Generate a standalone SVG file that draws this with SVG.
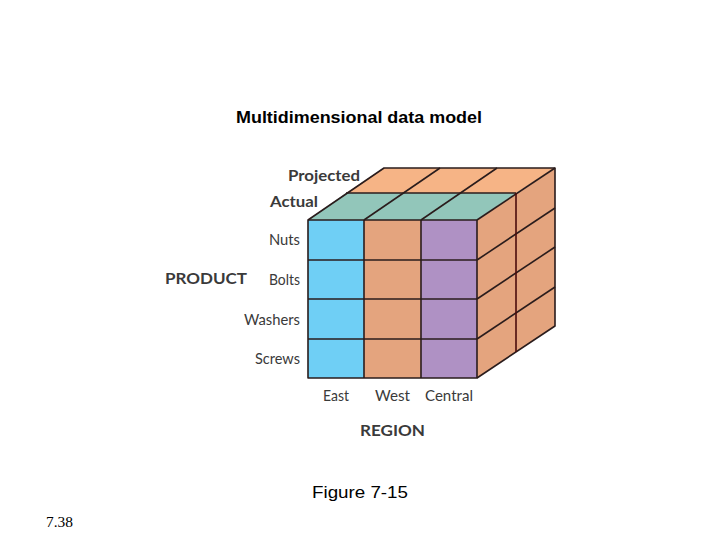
<svg xmlns="http://www.w3.org/2000/svg" width="720" height="540" viewBox="0 0 720 540">
<style>
.t{font-family:"Liberation Sans",Arial,sans-serif;fill:#000}
.l{font-family:"Lato","Open Sans",sans-serif;fill:#3a3a3a;font-size:15px}
.b{font-weight:bold;font-size:15.5px}
.g{stroke:#2a1c1c;stroke-width:1.6;fill:none;stroke-linejoin:round}
</style>
<rect width="720" height="540" fill="#fff"/>
<text class="t" x="359" y="123" font-size="17" font-weight="bold" text-anchor="middle" textLength="246" lengthAdjust="spacingAndGlyphs">Multidimensional data model</text>
<g id="cube">
<polygon points="346,193 516,193 555,168 384,168" fill="#F6B486"/>
<polygon points="308,220 477,220 516,193 346,193" fill="#92C6BA"/>
<polygon points="477,220 555,168 555,326 477,378" fill="#E4A47E"/>
<rect x="308" y="220" width="56" height="158" fill="#6FCFF5"/>
<rect x="364" y="220" width="57" height="158" fill="#E4A47E"/>
<rect x="421" y="220" width="56" height="158" fill="#AF91C4"/>
<g class="g">
<polygon points="308,220 477,220 477,378 308,378"/>
<line x1="364" y1="220" x2="364" y2="378"/>
<line x1="421" y1="220" x2="421" y2="378"/>
<line x1="308" y1="260" x2="477" y2="260"/>
<line x1="308" y1="299" x2="477" y2="299"/>
<line x1="308" y1="339" x2="477" y2="339"/>
<polyline points="308,220 384,168 555,168 555,326 477,378"/>
<line x1="477" y1="220" x2="555" y2="168"/>
<line x1="346" y1="193" x2="516" y2="193"/>
<line x1="364" y1="220" x2="440" y2="168"/>
<line x1="421" y1="220" x2="497" y2="168"/>
<line x1="477" y1="260" x2="555" y2="208"/>
<line x1="477" y1="299" x2="555" y2="247"/>
<line x1="477" y1="339" x2="555" y2="287"/>
<line x1="516" y1="193" x2="516" y2="352" stroke="#4a0c0c"/>
</g>
</g>
<g id="labels">
<text class="l b" x="288" y="181" textLength="72" lengthAdjust="spacingAndGlyphs">Projected</text>
<text class="l b" x="270" y="207" textLength="48" lengthAdjust="spacingAndGlyphs">Actual</text>
<text class="l" x="300" y="245" text-anchor="end" textLength="31" lengthAdjust="spacingAndGlyphs">Nuts</text>
<text class="l" x="300" y="285" text-anchor="end" textLength="31" lengthAdjust="spacingAndGlyphs">Bolts</text>
<text class="l" x="300" y="325" text-anchor="end" textLength="56" lengthAdjust="spacingAndGlyphs">Washers</text>
<text class="l" x="300" y="364" text-anchor="end" textLength="45" lengthAdjust="spacingAndGlyphs">Screws</text>
<text class="l b" x="165" y="284" textLength="82" lengthAdjust="spacingAndGlyphs">PRODUCT</text>
<text class="l" x="323" y="401" textLength="26" lengthAdjust="spacingAndGlyphs">East</text>
<text class="l" x="375" y="401" textLength="35" lengthAdjust="spacingAndGlyphs">West</text>
<text class="l" x="425" y="401" textLength="48" lengthAdjust="spacingAndGlyphs">Central</text>
<text class="l b" x="360" y="436" textLength="65" lengthAdjust="spacingAndGlyphs">REGION</text>
</g>
<text class="t" x="360" y="498" font-size="17" text-anchor="middle" textLength="96" lengthAdjust="spacingAndGlyphs">Figure 7-15</text>
<text x="46" y="527" font-family="'Liberation Serif',serif" font-size="14" textLength="27" lengthAdjust="spacingAndGlyphs">7.38</text>
</svg>
